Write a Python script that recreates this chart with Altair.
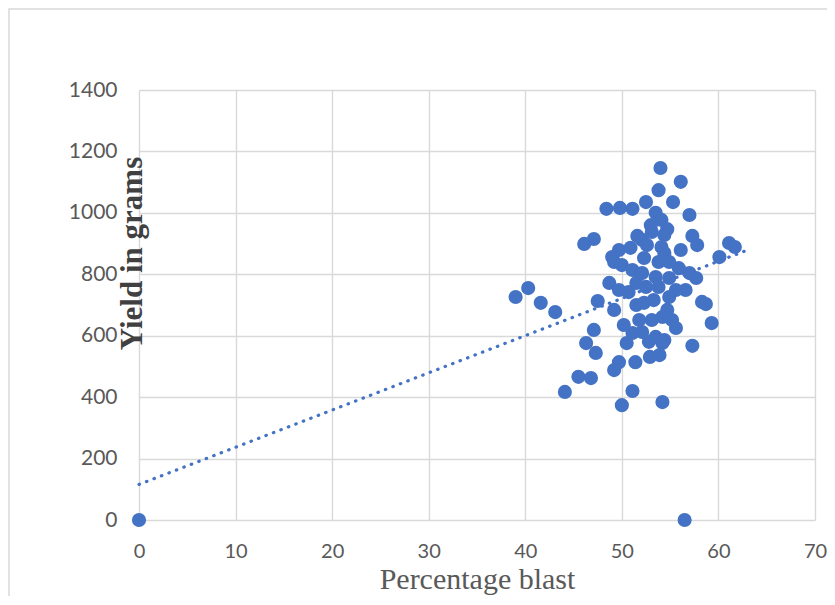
import altair as alt
import pandas as pd

blast = [0, 56.5, 39.0, 40.3, 41.6, 43.1, 44.1, 45.5, 46.8, 46.3, 47.3, 47.1, 47.5, 46.1, 47.1,
         48.4, 49.8, 51.1, 54.0, 56.1, 53.8, 52.5, 55.3, 57.0, 57.3, 57.8, 60.1, 61.1, 61.7, 56.1,
         58.3, 58.7, 59.3, 57.3, 53.5, 54.1, 54.7, 53.0, 53.1, 54.4, 51.6, 52.1, 49.7, 50.9, 52.6,
         54.1, 54.4, 49.0, 49.2, 50.0, 51.1, 52.1, 53.5, 54.9, 55.9, 57.0, 57.7, 56.6, 48.7, 49.7,
         51.5, 52.5, 53.8, 54.9, 49.2, 51.5, 52.3, 53.1, 54.2, 55.2, 55.6, 51.1, 52.1, 53.5, 54.4,
         50.5, 52.8, 54.2, 49.7, 49.2, 51.4, 52.9, 53.9, 51.1, 50.0, 54.2, 52.3, 53.8, 50.7, 53.3,
         51.8, 50.2, 54.7, 55.6, 54.9]
yield_g = [0, 0, 726, 755, 707, 677, 417, 466, 462, 576, 544, 619, 713, 899, 915,
           1013, 1016, 1013, 1146, 1101, 1074, 1035, 1035, 993, 925, 895, 856, 902, 889, 879,
           710, 703, 641, 567, 1000, 977, 947, 960, 938, 928, 925, 912, 879, 886, 895,
           889, 869, 856, 840, 830, 814, 804, 791, 788, 820, 804, 788, 749, 772, 749,
           772, 759, 759, 726, 684, 700, 707, 651, 661, 651, 625, 609, 612, 596, 586,
           576, 580, 576, 514, 488, 514, 531, 537, 420, 374, 384, 853, 840, 742, 716,
           651, 635, 684, 749, 840]
x_ticks = [0, 10, 20, 30, 40, 50, 60, 70]
y_ticks = [0, 200, 400, 600, 800, 1000, 1200, 1400]
trend_extent = [0, 63.2]

df = pd.DataFrame({"blast": blast, "yield": yield_g})

xscale = alt.Scale(domain=[0, 70], nice=False, zero=False)
yscale = alt.Scale(domain=[0, 1400], nice=False)

xaxis = alt.Axis(values=x_ticks, title="Percentage blast", grid=True, domain=False, ticks=False,
                 format="d", labelPadding=21, labelFlush=False, labelFontSize=20,
                 titleFont="Liberation Serif", titleFontSize=30,
                 titleFontWeight="normal", titleColor="#595959",
                 titleBaseline="alphabetic", titleY=68, titleX=338, titleAnchor="middle")
yaxis = alt.Axis(values=y_ticks, title="Yield in grams", grid=True, domain=False, ticks=False,
                 format="d", labelPadding=22, labelFlush=False,
                 titleFont="Liberation Serif", titleFontSize=31,
                 titleFontWeight="bold", titleColor="#404040", titleAngle=-90,
                 titleBaseline="middle", titleAlign="center", titleX=-7, titleY=163)

base = alt.Chart(df)

points = base.mark_circle(size=200, color="#4472C4", opacity=1).encode(
    x=alt.X("blast:Q", scale=xscale, axis=xaxis),
    y=alt.Y("yield:Q", scale=yscale, axis=yaxis),
)

trend = base.transform_regression("blast", "yield", extent=trend_extent).mark_line(
    color="#4472C4", strokeWidth=3.2, strokeDash=[0.5, 7.5], strokeCap="round"
).encode(
    x=alt.X("blast:Q", scale=xscale, axis=xaxis),
    y=alt.Y("yield:Q", scale=yscale, axis=yaxis),
)

border = alt.Chart(alt.Data(values=[{}])).mark_rect(
    fill=None, stroke="#d9d9d9", strokeWidth=1.5
).encode(
    x=alt.value(-130), x2=alt.value(760), y=alt.value(-81), y2=alt.value(640)
)

chart = alt.layer(border, points, trend).properties(
    width=676, height=430,
    autosize=alt.AutoSizeParams(type="none"),
    padding={"left": 131, "top": 82, "right": 12, "bottom": 76},
).configure_view(stroke=None).configure_axis(
    gridColor="#d9d9d9", gridWidth=1.4, labelFont="Lato", labelFontSize=21,
    labelColor="#595959",
)

chart.save("out.html", embed_options={"renderer": "svg", "actions": False})
